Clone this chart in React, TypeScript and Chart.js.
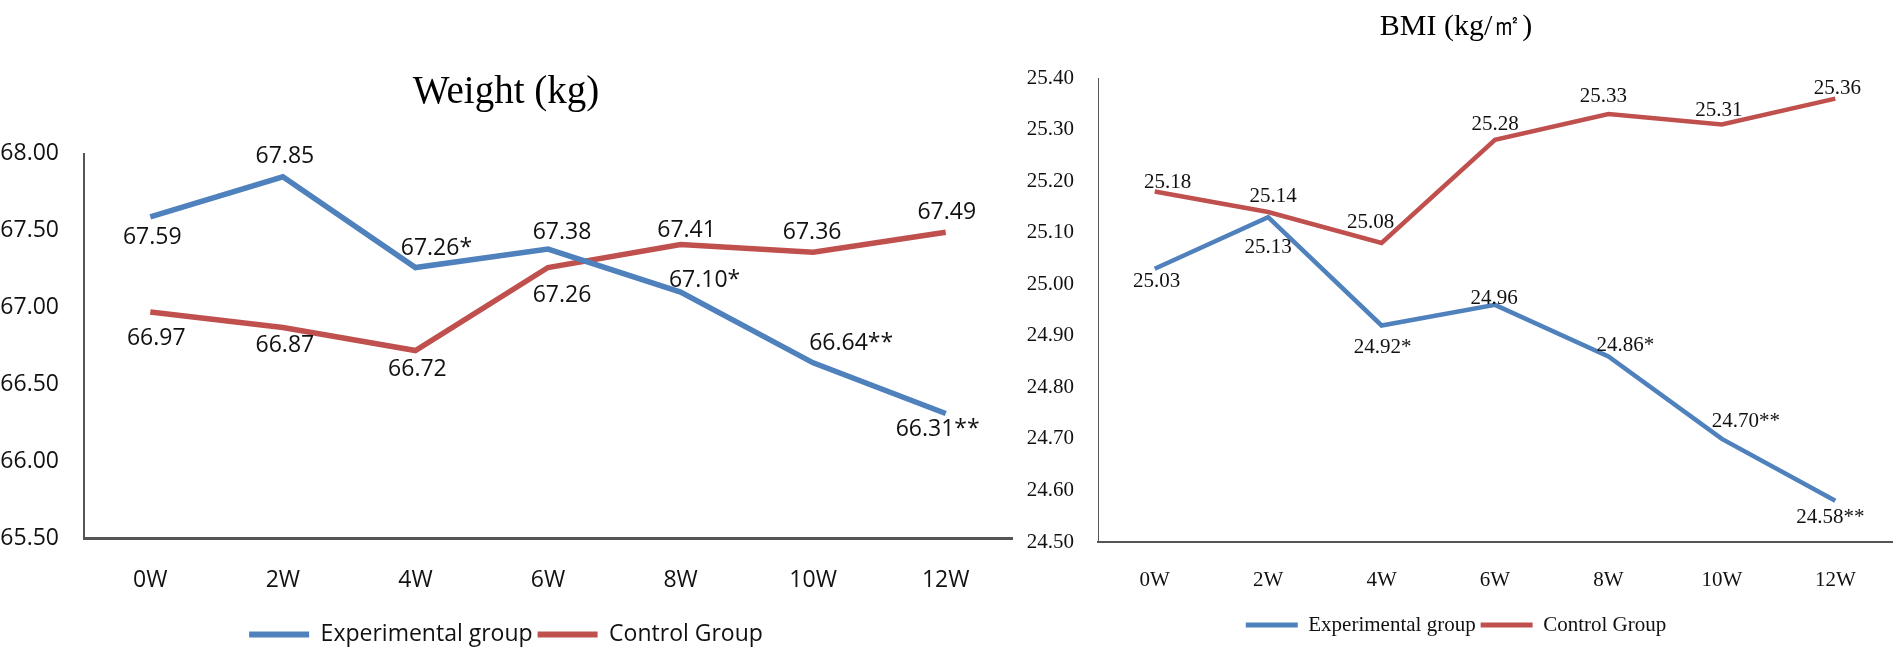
import React, { useEffect, useRef } from "react";
import { Chart, registerables, Plugin } from "chart.js";

Chart.register(...registerables);

const weeks = ["0W", "2W", "4W", "6W", "8W", "10W", "12W"];
const seriesNames = ["Experimental group", "Control Group"];

const weightExperimental = [67.59, 67.85, 67.26, 67.38, 67.1, 66.64, 66.31];
const weightControl = [66.97, 66.87, 66.72, 67.26, 67.41, 67.36, 67.49];
const weightExperimentalMarks = ["", "", "*", "", "*", "**", "**"];
const weightControlMarks = ["", "", "", "", "", "", ""];

const bmiExperimental = [25.03, 25.13, 24.92, 24.96, 24.86, 24.7, 24.58];
const bmiControl = [25.18, 25.14, 25.08, 25.28, 25.33, 25.31, 25.36];
const bmiExperimentalMarks = ["", "", "*", "", "*", "**", "**"];
const bmiControlMarks = ["", "", "", "", "", "", ""];

const BLUE = "#4F81BD";
const RED = "#C0504D";

// where each value label sits relative to its point (dx, dy), as in the original figure
const weightExpLabelPos = [[2, 21], [2, -20], [21, -19], [14, -17], [24, -12], [38, -19], [-8, 16]];
const weightCtrlLabelPos = [[6, 26], [2, 18], [2, 19], [14, 28], [6, -14], [-1, -20], [1, -20]];
const bmiExpLabelPos = [[2, 13], [0, 30], [1, 22], [-1, -6], [17, -11], [24, -17], [-5, 17]];
const bmiCtrlLabelPos = [[13, -9], [5, -16], [-11, -20], [0, -15], [-5, -18], [-3, -14], [2, -10]];

const pointLabels: Plugin = {
  id: "pointLabels",
  afterDatasetsDraw(chart, _args, opts: any) {
    const ctx = chart.ctx;
    ctx.save();
    ctx.font = opts.font;
    ctx.fillStyle = opts.color;
    ctx.textAlign = "center";
    ctx.textBaseline = "middle";
    chart.data.datasets.forEach((ds: any, di) => {
      const meta = chart.getDatasetMeta(di);
      meta.data.forEach((pt, i) => {
        const [dx, dy] = ds.labelPos[i];
        ctx.fillText(ds.labelTexts[i], pt.x + dx, pt.y + dy);
      });
    });
    ctx.restore();
  },
};

type Look = {
  width: number;
  family: string;
  tickSize: number;
  labelSize: number;
  legendSize: number;
  titleSize: number;
  titlePad: { top: number; bottom: number };
  yWidth: number;
  yPad: number;
  xHeight: number;
  xPad: number;
  padRight: number;
  padBottom: number;
  lineWidth: number;
  legendBox: [number, number];
  yBorder: number;
  xBorder: number;
};

type Props = {
  title: string;
  exp: number[];
  ctrl: number[];
  expMarks: string[];
  ctrlMarks: string[];
  expPos: number[][];
  ctrlPos: number[][];
  min: number;
  max: number;
  step: number;
  look: Look;
};

const TrendChart = ({ title, exp, ctrl, expMarks, ctrlMarks, expPos, ctrlPos, min, max, step, look }: Props) => {
  const ref = useRef<HTMLCanvasElement | null>(null);

  useEffect(() => {
    if (!ref.current) return;
    const chart = new Chart(ref.current, {
      type: "line",
      data: {
        labels: weeks,
        datasets: [
          {
            label: seriesNames[0],
            data: exp,
            borderColor: BLUE,
            backgroundColor: BLUE,
            borderWidth: look.lineWidth,
            pointRadius: 0,
            tension: 0,
            labelTexts: exp.map((v, i) => v.toFixed(2) + expMarks[i]),
            labelPos: expPos,
          } as any,
          {
            label: seriesNames[1],
            data: ctrl,
            borderColor: RED,
            backgroundColor: RED,
            borderWidth: look.lineWidth,
            pointRadius: 0,
            tension: 0,
            labelTexts: ctrl.map((v, i) => v.toFixed(2) + ctrlMarks[i]),
            labelPos: ctrlPos,
          } as any,
        ],
      },
      options: {
        responsive: false,
        animation: false,
        layout: { padding: { left: 0, top: 0, right: look.padRight, bottom: look.padBottom } },
        scales: {
          x: {
            offset: true,
            grid: { display: false },
            border: { display: true, color: "#555", width: look.xBorder },
            ticks: {
              color: "#111",
              padding: look.xPad,
              font: { family: look.family, size: look.tickSize },
              maxRotation: 0,
            },
            afterFit: (s: any) => {
              s.height = look.xHeight;
            },
          },
          y: {
            min,
            max,
            grid: { display: false },
            border: { display: true, color: "#555", width: look.yBorder },
            ticks: {
              stepSize: step,
              color: "#111",
              padding: look.yPad,
              font: { family: look.family, size: look.tickSize },
              callback: (v: any) => Number(v).toFixed(2),
            },
            afterFit: (s: any) => {
              s.width = look.yWidth;
            },
          },
        },
        plugins: {
          title: {
            display: true,
            text: title,
            color: "#000",
            font: { family: "'Liberation Serif', 'Times New Roman', serif", size: look.titleSize, weight: "normal" },
            padding: look.titlePad,
          },
          legend: {
            position: "bottom",
            labels: {
              color: "#111",
              boxWidth: look.legendBox[0],
              boxHeight: look.legendBox[1],
              padding: 5,
              font: { family: look.family, size: look.legendSize },
              generateLabels: (c: Chart) =>
                Chart.defaults.plugins.legend.labels
                  .generateLabels(c)
                  .map((l: any) => ({ ...l, lineWidth: 0, fillStyle: l.strokeStyle })),
            },
          },
          tooltip: { enabled: false },
          pointLabels: {
            font: `${look.labelSize}px ${look.family}`,
            color: "#111",
          },
        } as any,
      },
      plugins: [pointLabels],
    });
    return () => {
      chart.destroy();
    };
  }, [title, exp, ctrl, expMarks, ctrlMarks, expPos, ctrlPos, min, max, step, look]);

  return <canvas ref={ref} width={look.width} height={654} style={{ display: "block" }} />;
};

const leftLook: Look = {
  width: 1020,
  family: "'Open Sans', sans-serif",
  tickSize: 23,
  labelSize: 23,
  legendSize: 23,
  titleSize: 39,
  titlePad: { top: 69, bottom: 38 },
  yWidth: 84,
  yPad: 17,
  xHeight: 80,
  xPad: 21,
  padRight: 8,
  padBottom: -2,
  lineWidth: 5.5,
  legendBox: [60, 6],
  yBorder: 2,
  xBorder: 3,
};

const rightLook: Look = {
  width: 881,
  family: "'Liberation Serif', 'Times New Roman', serif",
  tickSize: 21,
  labelSize: 21,
  legendSize: 21,
  titleSize: 30,
  titlePad: { top: 9, bottom: 33 },
  yWidth: 78,
  yPad: 16,
  xHeight: 67.5,
  xPad: 17.4,
  padRight: 9,
  padBottom: 8.5,
  lineWidth: 4.5,
  legendBox: [52, 5],
  yBorder: 1,
  xBorder: 2,
};

export default function App() {
  return (
    <div
      style={{
        position: "absolute",
        left: 0,
        top: 0,
        width: 1901,
        height: 654,
        background: "#fff",
        display: "flex",
      }}
    >
      <TrendChart
        title="Weight (kg)"
        exp={weightExperimental}
        ctrl={weightControl}
        expMarks={weightExperimentalMarks}
        ctrlMarks={weightControlMarks}
        expPos={weightExpLabelPos}
        ctrlPos={weightCtrlLabelPos}
        min={65.5}
        max={68}
        step={0.5}
        look={leftLook}
      />
      <TrendChart
        title="BMI (kg/㎡)"
        exp={bmiExperimental}
        ctrl={bmiControl}
        expMarks={bmiExperimentalMarks}
        ctrlMarks={bmiControlMarks}
        expPos={bmiExpLabelPos}
        ctrlPos={bmiCtrlLabelPos}
        min={24.5}
        max={25.4}
        step={0.1}
        look={rightLook}
      />
    </div>
  );
}
